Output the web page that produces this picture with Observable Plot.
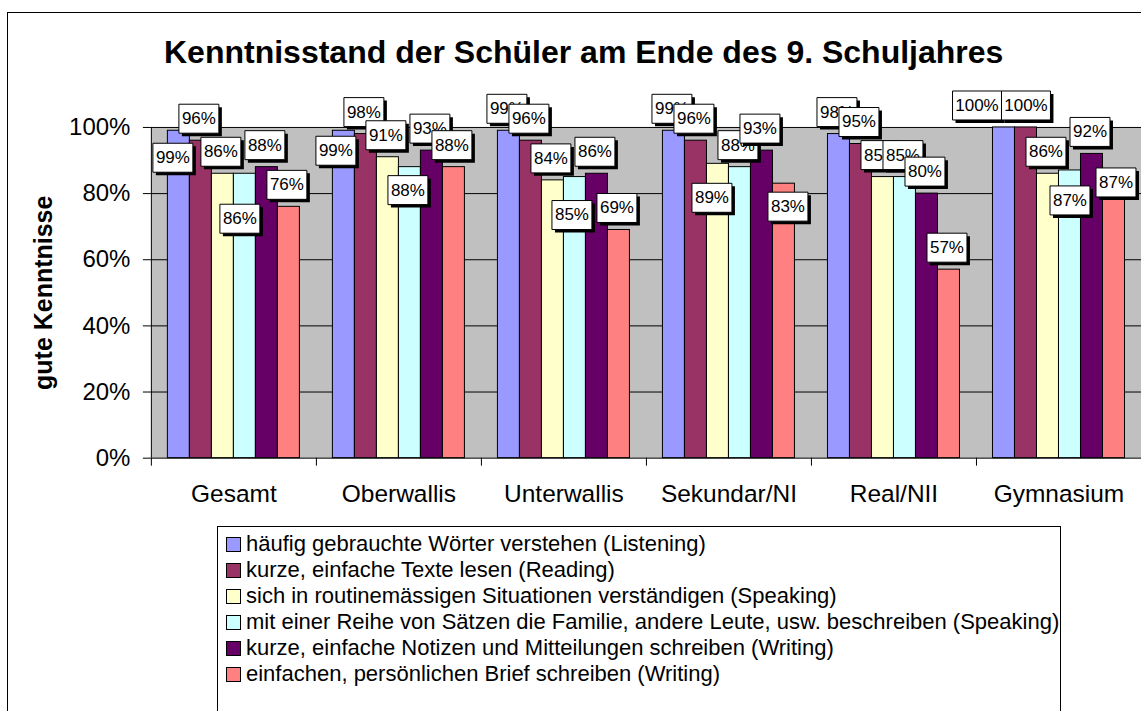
<!DOCTYPE html>
<html><head><meta charset="utf-8">
<script src="https://cdn.jsdelivr.net/npm/d3@7"></script>
<script src="https://cdn.jsdelivr.net/npm/@observablehq/plot@0.6"></script>
<style>
html,body{margin:0;padding:0;background:#fff;}
#wrap{position:relative;width:1141px;height:711px;overflow:hidden;font-family:"Liberation Sans",Arial,sans-serif;color:#000;}
#border{position:absolute;left:7px;top:12px;width:1300px;height:900px;border:1px solid #000;box-sizing:border-box;}
#title{position:absolute;left:164px;top:36px;font-size:32px;font-weight:bold;line-height:32px;white-space:nowrap;}
#chart{position:absolute;left:0;top:80px;}
#legend{position:absolute;left:217px;top:526px;width:844px;height:230px;border:1px solid #000;box-sizing:border-box;background:#fff;}
.row{position:absolute;left:0;height:26px;display:flex;align-items:center;white-space:nowrap;font-size:22px;}
.sw{width:13px;height:13px;border:1px solid #000;margin-left:8px;margin-right:5px;flex:none;}
</style></head>
<body>
<div id="wrap">
  <div id="border"></div>
  <div id="title"></div>
  <div id="chart"></div>
  <div id="legend"></div>
</div>
<script>
const title = "Kenntnisstand der Schüler am Ende des 9. Schuljahres";
const yLabel = "gute Kenntnisse";
const categories = ["Gesamt", "Oberwallis", "Unterwallis", "Sekundar/NI", "Real/NII", "Gymnasium"];
const seriesNames = [
  "häufig gebrauchte Wörter verstehen (Listening)",
  "kurze, einfache Texte lesen (Reading)",
  "sich in routinemässigen Situationen verständigen (Speaking)",
  "mit einer Reihe von Sätzen die Familie, andere Leute, usw. beschreiben (Speaking)",
  "kurze, einfache Notizen und Mitteilungen schreiben (Writing)",
  "einfachen, persönlichen Brief schreiben (Writing)"
];
const seriesColors = ["#9999FF", "#993366", "#FFFFCC", "#CCFFFF", "#660066", "#FF8080"];
const listening = [0.99, 0.99, 0.99, 0.99, 0.98, 1.00];
const reading   = [0.96, 0.98, 0.96, 0.96, 0.95, 1.00];
const speaking1 = [0.86, 0.91, 0.84, 0.89, 0.85, 0.86];
const speaking2 = [0.86, 0.88, 0.85, 0.88, 0.85, 0.87];
const writing1  = [0.88, 0.93, 0.86, 0.93, 0.80, 0.92];
const writing2  = [0.76, 0.88, 0.69, 0.83, 0.57, 0.87];
const yTicks = [0, 0.2, 0.4, 0.6, 0.8, 1.0];
// manual label nudges (pixels) mimicking hand-moved data labels
const labelNudges = [
  {cat: "Gesamt", s: 0, dx: -4, dy: 49},
  {cat: "Gesamt", s: 3, dx: -3, dy: 67},
  {cat: "Oberwallis", s: 0, dx: -6, dy: 42},
  {cat: "Oberwallis", s: 3, dx: 0, dy: 45},
  {cat: "Unterwallis", s: 3, dx: -1, dy: 60},
  {cat: "Sekundar/NI", s: 2, dx: -4, dy: 56},
  {cat: "Sekundar/NI", s: 5, dx: 6, dy: 45},
  {cat: "Gymnasium", s: 0, dx: -25, dy: 0},
  {cat: "Gymnasium", s: 1, dx: 2, dy: 0},
  {cat: "Gymnasium", s: 3, dx: 2, dy: 52},
  {cat: "Gymnasium", s: 5, dx: 4, dy: 34}
];

const seriesValues = [listening, reading, speaking1, speaking2, writing1, writing2];
const rows = [];
categories.forEach((cat, ci) => seriesValues.forEach((vals, si) =>
  rows.push({cat, ci, si, series: seriesNames[si], value: vals[ci]})));

const groupPad = 0.1;
const barW = (1 - 2 * groupPad) / seriesNames.length;
const x1 = d => d.ci + groupPad + d.si * barW;
const x2 = d => x1(d) + barW;
const xc = d => x1(d) + barW / 2;
const fmt = d3.format(".0%");

function boxSymbol(w, h) {
  return {draw(ctx) { ctx.moveTo(-w/2, -h/2); ctx.lineTo(w/2, -h/2); ctx.lineTo(w/2, h/2); ctx.lineTo(-w/2, h/2); ctx.closePath(); }};
}
const box3 = boxSymbol(40, 29), box4 = boxSymbol(49, 29);

const labelMarks = rows.flatMap(d => {
  const n = labelNudges.find(e => e.cat === d.cat && e.s === d.si) || {dx: 0, dy: 0};
  const dx = -2 + n.dx, dy = -22 + n.dy;
  const t = fmt(d.value);
  const sym = t.length >= 4 ? box4 : box3;
  return [
    Plot.dot([d], {x: xc, y: "value", symbol: sym, fill: "#000", stroke: "none", dx: dx + 3, dy: dy + 3}),
    Plot.dot([d], {x: xc, y: "value", symbol: sym, fill: "#fff", stroke: "#000", strokeWidth: 1, dx, dy}),
    Plot.text([d], {x: xc, y: "value", text: d => fmt(d.value), dx, dy, fontSize: 17, fill: "#000"})
  ];
});

const chart = Plot.plot({
  width: 1142, height: 440,
  marginLeft: 151, marginRight: 0, marginTop: 47, marginBottom: 62,
  style: {fontFamily: "'Liberation Sans', Arial, sans-serif", fontSize: "24px", color: "#000", background: "transparent", overflow: "visible"},
  x: {domain: [0, categories.length], axis: null},
  y: {domain: [0, 1], axis: null},
  marks: [
    Plot.frame({fill: "#c0c0c0", stroke: null}),
    Plot.gridY(yTicks.slice(1), {stroke: "#000", strokeOpacity: 1, strokeWidth: 1}),
    Plot.rectY(rows, {x1, x2, y1: 0, y2: "value", fill: d => seriesColors[d.si], stroke: "#000", strokeWidth: 1}),
    Plot.ruleX([0], {stroke: "#000"}),
    Plot.ruleY([0], {stroke: "#000"}),
    Plot.axisY(yTicks, {tickSize: 8, tickPadding: 13, tickFormat: fmt, fontSize: 24, stroke: "#000", label: null}),
    Plot.axisX(d3.range(categories.length + 1), {tickSize: 8, tickFormat: () => "", stroke: "#000", label: null}),
    Plot.axisX(categories.map((c, i) => i + 0.5), {tickSize: 0, tickPadding: 26, tickFormat: d => categories[Math.floor(d)], fontSize: 24.5, label: null}),
    Plot.text([yLabel], {frameAnchor: "left", rotate: -90, dx: -107, textAnchor: "middle", fontWeight: "bold", fontSize: 25, fill: "#000"}),
    ...labelMarks
  ]
});
document.getElementById("chart").appendChild(chart);
document.getElementById("title").textContent = title;

const legend = document.getElementById("legend");
seriesNames.forEach((name, i) => {
  const r = document.createElement("div");
  r.className = "row";
  r.style.top = (4 + i * 26) + "px";
  const sw = document.createElement("span");
  sw.className = "sw";
  sw.style.background = seriesColors[i];
  const tx = document.createElement("span");
  tx.textContent = name;
  r.appendChild(sw); r.appendChild(tx);
  legend.appendChild(r);
});
</script>
</body></html>
